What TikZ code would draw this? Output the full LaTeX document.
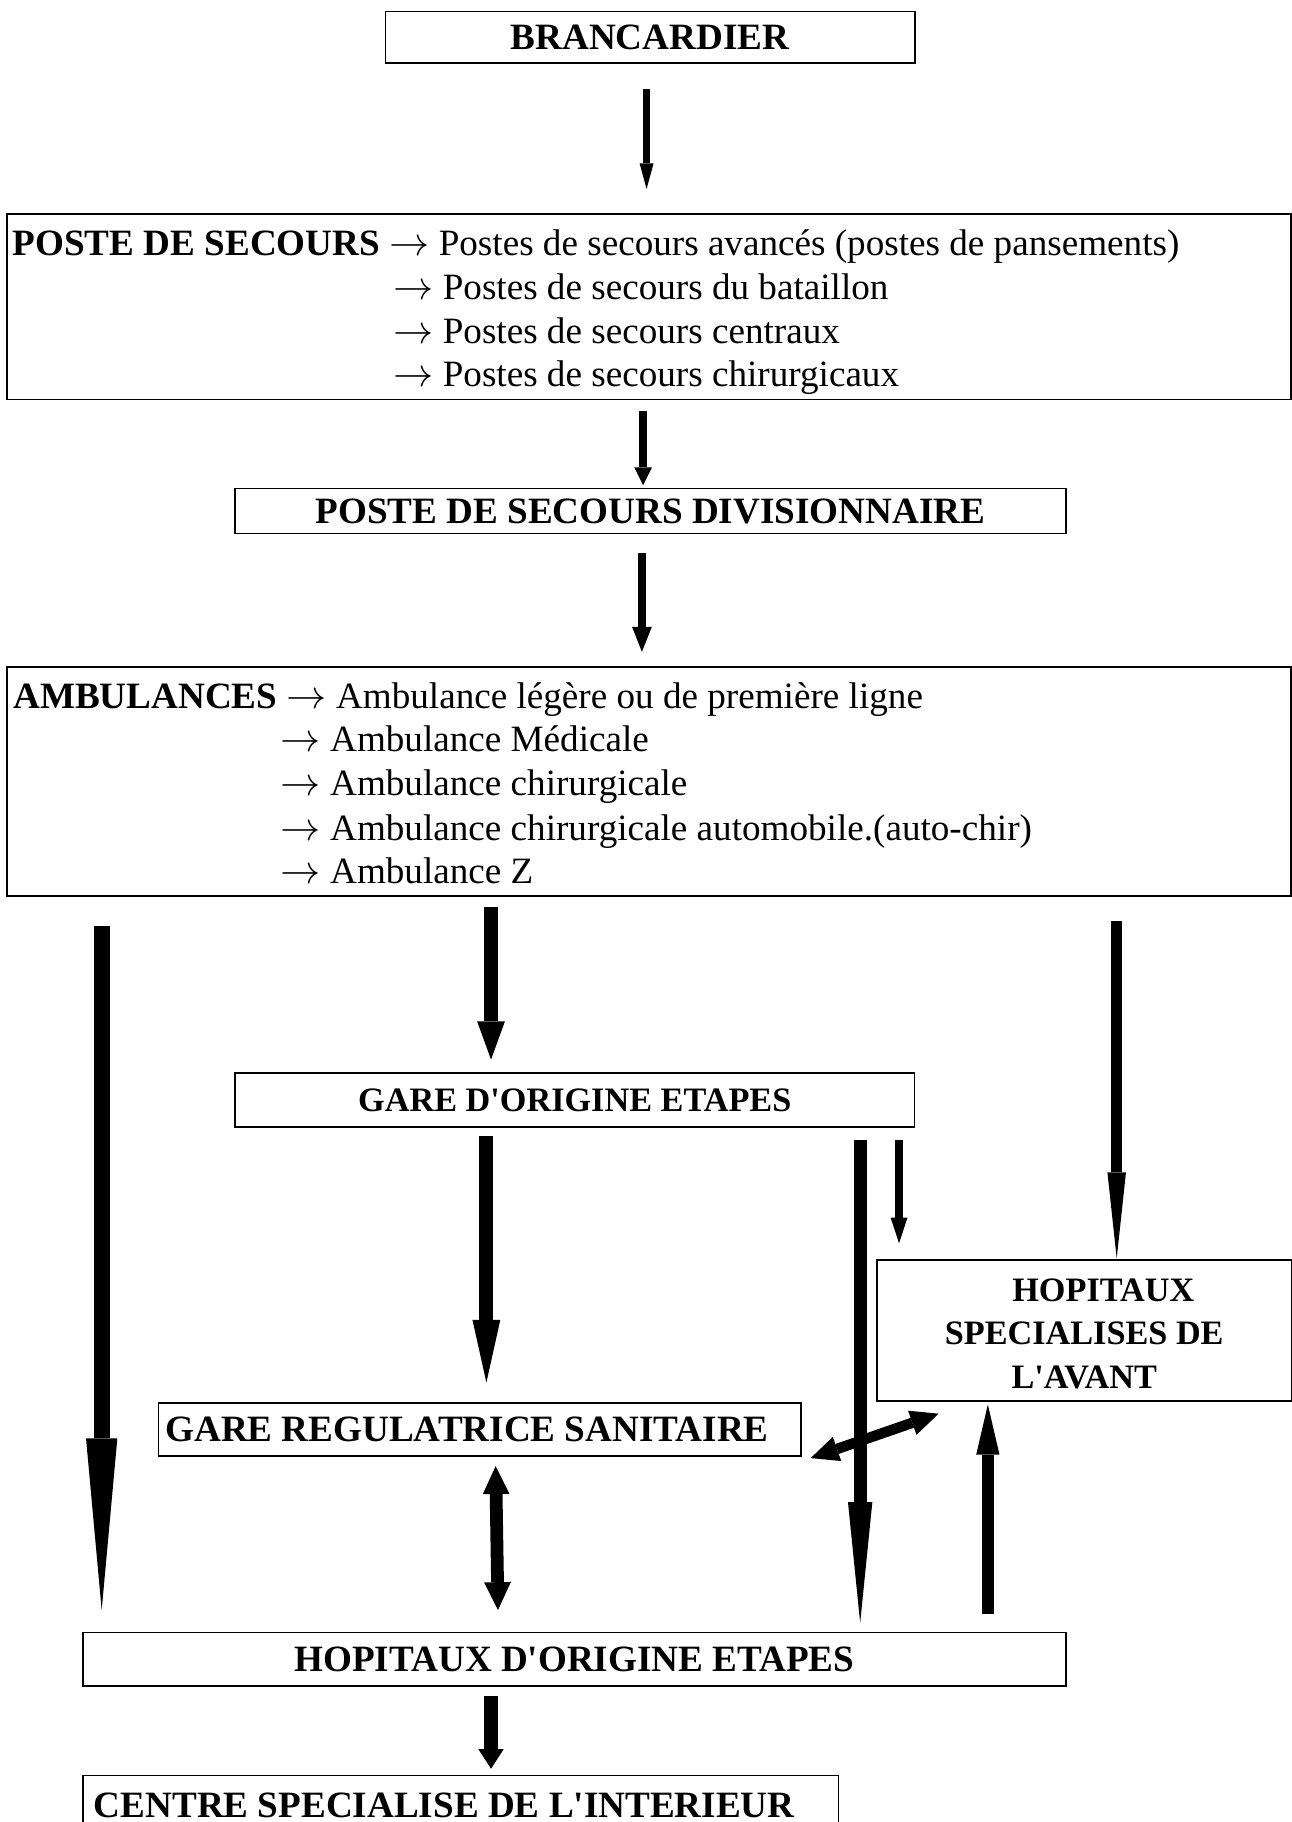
\documentclass[tikz,border=0pt]{standalone}
\usepackage{fontspec}
\setmainfont{Liberation Serif}[Ligatures=TeXOff]
\usetikzlibrary{arrows.meta}
\newcommand{\ra}{$\rightarrow$}
\tikzset{
  box/.style={draw, line width=0.75pt, inner sep=0pt},
  ttl/.style={font=\bfseries\fontsize{16pt}{18.9pt}\selectfont, text height=10.6pt, text depth=0pt},
  ttls/.style={font=\bfseries\fontsize{14.75pt}{18.9pt}\selectfont, text height=9.77pt, text depth=0pt},
  txt/.style={font=\fontsize{16pt}{18.9pt}\selectfont, inner sep=0pt, anchor=base west},
  txtb/.style={font=\bfseries\fontsize{16pt}{18.9pt}\selectfont, inner sep=0pt, anchor=base west},
  txts/.style={font=\bfseries\fontsize{14.75pt}{18.9pt}\selectfont, inner sep=0pt, anchor=base},
  arr/.style n args={3}{line width=#1, -{Triangle[length=#2,width=#3,line width=0pt]}},
  darr/.style n args={3}{line width=#1, {Triangle[length=#2,width=#3,line width=0pt]}-{Triangle[length=#2,width=#3,line width=0pt]}},
}
\begin{document}
\begin{tikzpicture}[x=0.5pt,y=-0.5pt]
\clip (0,0) rectangle (1113,1569.6);
\fill[white] (0,0) rectangle (1113,1569.6);

% boxes
\node[box, ttl, minimum width=228pt, minimum height=22pt] (brancardier) at (560,32) {BRANCARDIER};
\node[box, minimum width=552.85pt, minimum height=79.85pt] (poste) at (559.15,264.25) {};
\node[box, ttl, minimum width=357.75pt, minimum height=19.4pt] (div) at (560.25,440.2) {POSTE DE SECOURS DIVISIONNAIRE};
\node[box, minimum width=552.85pt, minimum height=98.8pt] (amb) at (559.15,673.3) {};
\node[box, ttls, minimum width=292.65pt, minimum height=23.25pt] (gare) at (495.15,947.55) {GARE D'ORIGINE ETAPES};
\node[box, minimum width=276.75pt, minimum height=23pt] (garereg) at (413.25,1231.5) {};
\node[box, minimum width=178.45pt, minimum height=60.75pt] (hspec) at (934.05,1146.45) {};
\node[box, ttl, minimum width=423.15pt, minimum height=23.2pt] (horig) at (494.85,1429.5) {HOPITAUX D'ORIGINE ETAPES};
\node[box, minimum width=325.3pt, minimum height=45.25pt] (centre) at (397,1574.75) {};

% texts
\node[txt] (p1) at (10.5,219.7) {\textbf{POSTE DE SECOURS} \ra{} Postes de secours avancés (postes de pansements)};
\node[txt] (p2) at (338.5,257.9) {\ra{} Postes de secours du bataillon};
\node[txt] (p3) at (338.5,295.9) {\ra{} Postes de secours centraux};
\node[txt] (p4) at (338.5,333.2) {\ra{} Postes de secours chirurgicaux};

\node[txt] (a1) at (11,610.4) {\textbf{AMBULANCES} \ra{} Ambulance légère ou de première ligne};
\node[txt] (a2) at (241.5,647.7) {\ra{} Ambulance Médicale};
\node[txt] (a3) at (241.5,685.6) {\ra{} Ambulance chirurgicale};
\node[txt] (a4) at (241.5,723.8) {\ra{} Ambulance chirurgicale automobile.(auto-chir)};
\node[txt] (a5) at (241.5,761.2) {\ra{} Ambulance Z};

\node[txtb] (grt) at (142,1242) {GARE REGULATRICE SANITAIRE};
\node[txts] (hs1) at (950.5,1120.8) {HOPITAUX};
\node[txts] (hs2) at (934,1158.5) {SPECIALISES DE};
\node[txts] (hs3) at (934,1196.3) {L'AVANT};
\node[txtb] (ct) at (80.5,1565.5) {CENTRE SPECIALISE DE L'INTERIEUR};

% arrow end points
\coordinate (A1s) at (557,76.5);   \coordinate (A1e) at (557,162.8);
\coordinate (A2s) at (554,353.8);  \coordinate (A2e) at (554,417.9);
\coordinate (A3s) at (553,476.2);  \coordinate (A3e) at (553,561.5);
\coordinate (Ls)  at (87.6,797.6); \coordinate (Le)  at (87.6,1387);
\coordinate (M1s) at (423,781.3);  \coordinate (M1e) at (423,912.8);
\coordinate (M2s) at (419,979);    \coordinate (M2e) at (419,1191);
\coordinate (D1s) at (427,1263);   \coordinate (D1e) at (429,1387);
\coordinate (R1s) at (741,982);    \coordinate (R1e) at (741,1398);
\coordinate (R2s) at (774.5,982);  \coordinate (R2e) at (774.5,1071);
\coordinate (R3s) at (962,793);    \coordinate (R3e) at (962,1084);
\coordinate (U1s) at (851,1390);   \coordinate (U1e) at (851,1210);
\coordinate (Ds)  at (698.4,1256.1); \coordinate (De) at (808.6,1217.8);
\coordinate (B1s) at (423,1461.4); \coordinate (B1e) at (423,1523.7);

% connectors
\draw[arr={3pt}{11pt}{6pt}] (A1s) -- (A1e);
\draw[arr={3.2pt}{7.6pt}{7.6pt}] (A2s) -- (A2e);
\draw[arr={3.5pt}{10.7pt}{8.5pt}] (A3s) -- (A3e);
\draw[arr={6.75pt}{74pt}{13.5pt}] (Ls) -- (Le);
\draw[arr={5.75pt}{16.5pt}{12pt}] (M1s) -- (M1e);
\draw[arr={6pt}{27pt}{12pt}] (M2s) -- (M2e);
\draw[darr={5.5pt}{12pt}{11.5pt}] (D1s) -- (D1e);
\draw[arr={5.5pt}{52pt}{10.5pt}] (R1s) -- (R1e);
\draw[arr={3.75pt}{11pt}{7.25pt}] (R2s) -- (R2e);
\draw[arr={4.5pt}{37pt}{8pt}] (R3s) -- (R3e);
\draw[arr={5pt}{21.5pt}{10pt}] (U1s) -- (U1e);
\draw[darr={4.5pt}{12pt}{11pt}] (Ds) -- (De);
\draw[arr={6pt}{8.5pt}{11pt}] (B1s) -- (B1e);
\end{tikzpicture}
\end{document}
